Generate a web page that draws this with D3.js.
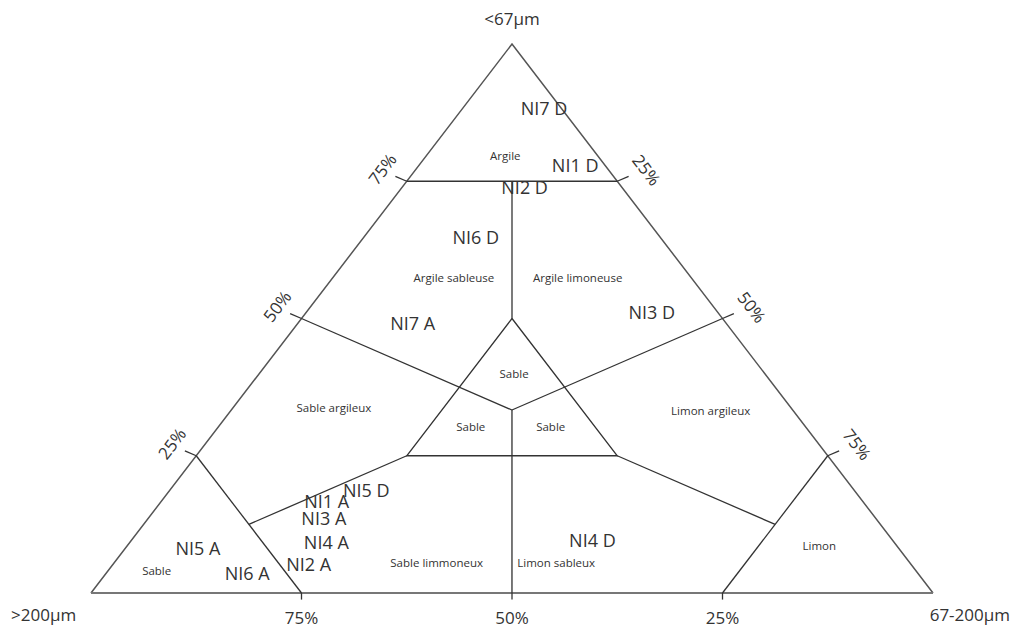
<!DOCTYPE html>
<html>
<head>
<meta charset="utf-8">
<script src="https://cdn.jsdelivr.net/npm/d3@7"></script>
<style>
  body { margin: 0; background: #fff; }
  svg text { font-family: "Open Sans", sans-serif; fill: #333; }
</style>
</head>
<body>
<div id="chart"></div>
<script>
// components are [clay <67µm, silt 67-200µm, sand >200µm], in %
var cornerNames = ["<67µm", "67-200µm", ">200µm"];
var tickValues = [25, 50, 75];

// class boundaries (each one a polyline)
var boundaries = [
    [[75, 0, 25], [75, 25, 0]],
    [[75, 12.5, 12.5], [50, 25, 25]],
    [[50, 25, 25], [25, 25, 50], [25, 50, 25], [50, 25, 25]],
    [[33.33, 33.33, 33.33], [50, 0, 50]],
    [[33.33, 33.33, 33.33], [50, 50, 0]],
    [[33.33, 33.33, 33.33], [0, 50, 50]],
    [[25, 25, 50], [12.5, 12.5, 75]],
    [[25, 50, 25], [12.5, 75, 12.5]],
    [[25, 0, 75], [0, 25, 75]],
    [[25, 75, 0], [0, 75, 25]]
];

// class names
var classNames = ["Argile", "Argile sableuse", "Argile limoneuse", "Sable", "Sable", "Sable",
    "Sable argileux", "Limon argileux", "Sable limmoneux", "Limon sableux", "Limon", "Sable"];
var classPos = [
    [79.6, 9.4, 11], [57.4, 14.4, 28.2], [57.4, 29.1, 13.5], [39.9, 30.3, 29.8],
    [30.2, 30, 39.8], [30.2, 39.5, 30.3], [33.7, 12, 54.3], [33.2, 57, 9.8],
    [5.5, 38.3, 56.2], [5.5, 52.5, 42], [8.6, 82.2, 9.2], [4, 5.8, 90.2]
];

// samples
var sampleNames = ["NI7 D", "NI1 D", "NI2 D", "NI6 D", "NI7 A", "NI3 D", "NI5 D",
    "NI1 A", "NI3 A", "NI4 A", "NI2 A", "NI5 A", "NI6 A", "NI4 D"];
var sampleClay = [88.2, 77.8, 73.8, 64.8, 49, 51, 18.6, 16.6, 13.5, 9.1, 5.1, 8, 3.5, 9.5];
var sampleSilt = [9.7, 18.6, 14.6, 13.3, 13.7, 41.1, 23.4, 19.7, 20.9, 23.4, 23.3, 8.7, 16.8, 54.8];
var sampleSand = [2.1, 3.6, 11.6, 21.9, 37.3, 7.9, 58, 63.7, 65.6, 67.5, 71.6, 83.3, 79.7, 35.7];

var width = 1011, height = 632;

var svg = d3.select("#chart").append("svg")
    .attr("width", width)
    .attr("height", height);

// horizontal position from (silt + clay/2), vertical from clay
var x = d3.scaleLinear().domain([0, 100]).range([91, 933]);
var y = d3.scaleLinear().domain([0, 100]).range([593, 44]);

function px(d) { return x(d[1] + d[0] / 2); }
function py(d) { return y(d[0]); }

var line = d3.line().x(px).y(py);

// outline
var A = [100, 0, 0], B = [0, 100, 0], C = [0, 0, 100];
svg.append("path")
    .attr("d", line([C, A, B]))
    .attr("fill", "none")
    .attr("stroke", "#555")
    .attr("stroke-width", 1.5);
svg.append("path")
    .attr("d", line([C, B]))
    .attr("fill", "none")
    .attr("stroke", "#777")
    .attr("stroke-width", 2.2);

// boundaries
svg.selectAll(".bound")
    .data(boundaries)
    .enter().append("path")
    .attr("class", "bound")
    .attr("d", line)
    .attr("fill", "none")
    .attr("stroke", "#333")
    .attr("stroke-width", 1.3);

// ticks: left side (clay on the sand edge), right side, bottom
var leftDir = [1, -2, 1], rightDir = [1, 1, -2], downDir = [-2, 1, 1];
function shift(p, dir, k) { return p.map(function (v, i) { return v + dir[i] * k; }); }

var ticks = [];
tickValues.forEach(function (t) {
    var l = [t, 0, 100 - t];
    var r = [100 - t, t, 0];
    var b = [0, 100 - t, t];
    ticks.push({ p: l, q: shift(l, leftDir, 0.9), label: t + "%", side: "left" });
    ticks.push({ p: r, q: shift(r, rightDir, 0.9), label: t + "%", side: "right" });
    ticks.push({ p: b, q: shift(b, downDir, 0.6), label: t + "%", side: "bottom" });
});

svg.selectAll(".tick")
    .data(ticks)
    .enter().append("path")
    .attr("class", "tick")
    .attr("d", function (d) { return line([d.p, d.q]); })
    .attr("stroke", "#333")
    .attr("stroke-width", 1.3);

var edgeAngle = Math.atan2(y(0) - y(100), x(50) - x(0)) * 180 / Math.PI;

svg.selectAll(".tickLabel")
    .data(ticks)
    .enter().append("text")
    .attr("class", "tickLabel")
    .attr("text-anchor", "middle")
    .attr("dy", "0.35em")
    .style("font-size", "17px")
    .attr("transform", function (d) {
        var cx = px(d.p), cy = py(d.p);
        if (d.side == "left") return "translate(" + (cx - 24) + "," + (cy - 12) + ") rotate(" + (-edgeAngle) + ")";
        if (d.side == "right") return "translate(" + (cx + 29) + "," + (cy - 11) + ") rotate(" + edgeAngle + ")";
        return "translate(" + cx + "," + (cy + 25) + ")";
    })
    .text(function (d) { return d.label; });

// corner names
svg.append("text")
    .attr("x", px(A)).attr("y", py(A) - 25)
    .attr("text-anchor", "middle").attr("dy", "0.35em")
    .style("font-size", "17px")
    .text(cornerNames[0]);
svg.append("text")
    .attr("x", px(B) + 77).attr("y", py(B) + 22)
    .attr("text-anchor", "end").attr("dy", "0.35em")
    .style("font-size", "17px")
    .text(cornerNames[1]);
svg.append("text")
    .attr("x", px(C) - 80).attr("y", py(C) + 22)
    .attr("text-anchor", "start").attr("dy", "0.35em")
    .style("font-size", "17px")
    .text(cornerNames[2]);

// class labels
svg.selectAll(".classLabel")
    .data(classNames)
    .enter().append("text")
    .attr("class", "classLabel")
    .attr("x", function (d, i) { return px(classPos[i]); })
    .attr("y", function (d, i) { return py(classPos[i]); })
    .attr("text-anchor", "middle")
    .attr("dy", "0.35em")
    .style("font-size", "11.5px")
    .text(function (d) { return d; });

// sample labels
var samples = sampleNames.map(function (n, i) {
    return { name: n, p: [sampleClay[i], sampleSilt[i], sampleSand[i]] };
});

svg.selectAll(".sample")
    .data(samples)
    .enter().append("text")
    .attr("class", "sample")
    .attr("x", function (d) { return px(d.p); })
    .attr("y", function (d) { return py(d.p); })
    .attr("text-anchor", "middle")
    .attr("dy", "0.35em")
    .style("font-size", "18px")
    .text(function (d) { return d.name; });
</script>
</body>
</html>
